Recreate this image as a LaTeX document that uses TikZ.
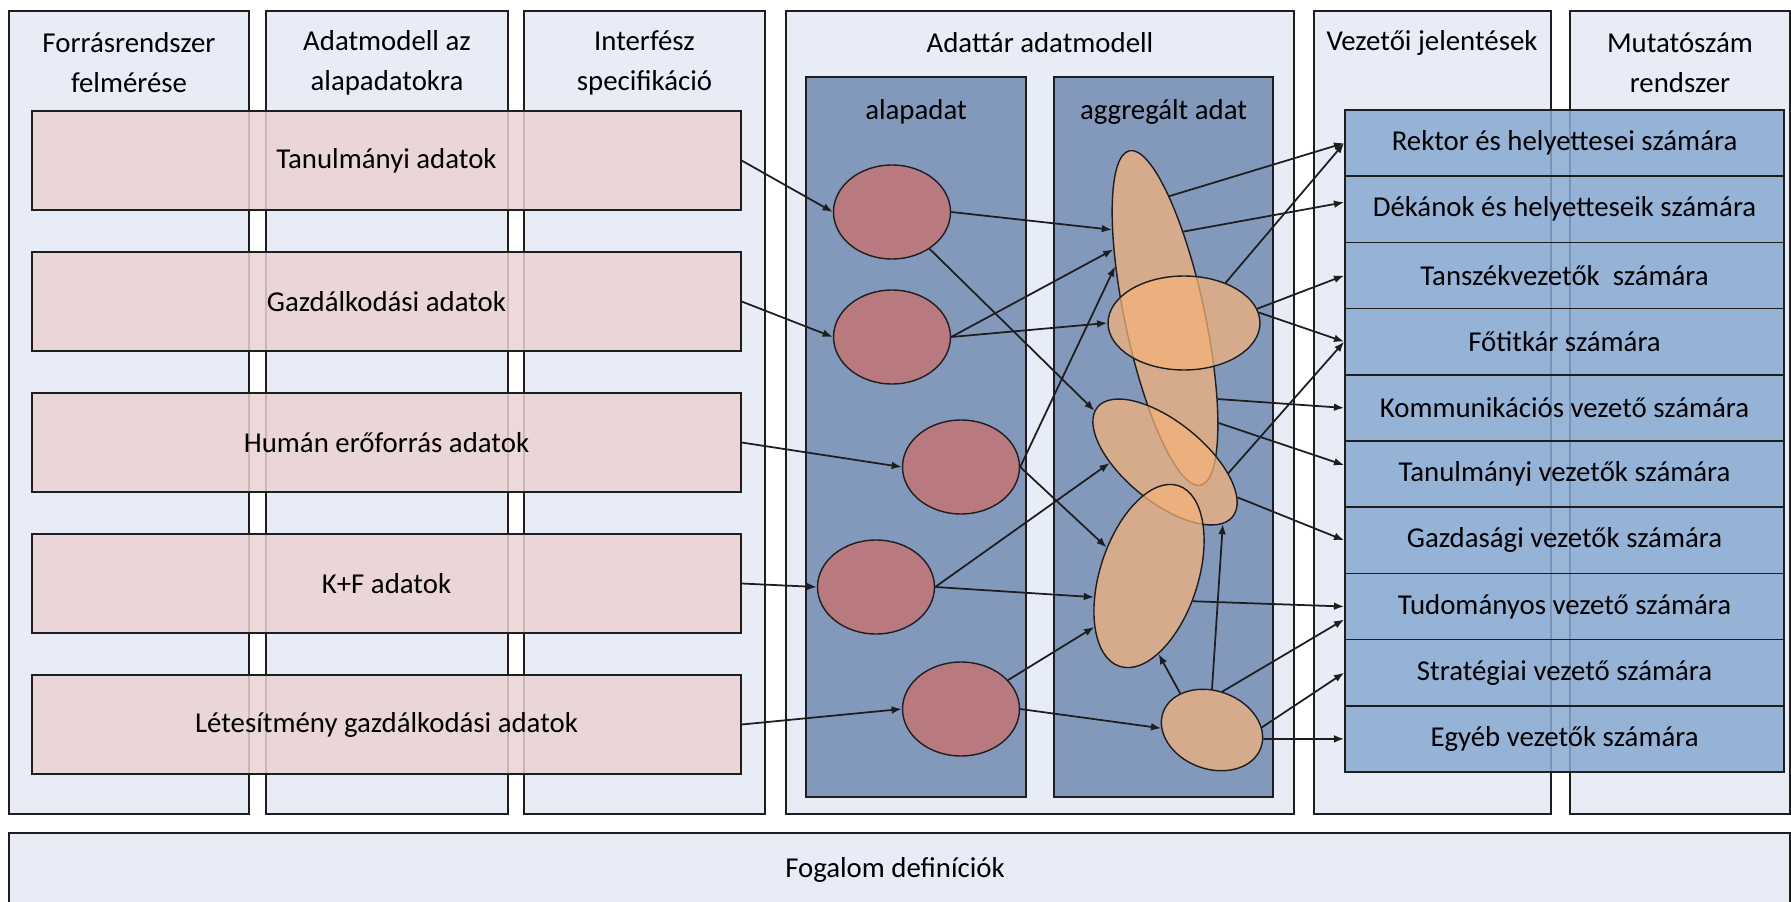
\documentclass[tikz,border=0pt]{standalone}
\usepackage{fontspec}
\setmainfont{Carlito}
\usepackage{tikz}
\usetikzlibrary{positioning}
\usetikzlibrary{arrows.meta}
\usetikzlibrary{shapes.geometric}
\definecolor{colbg}{RGB}{231,236,246}
\definecolor{panel}{RGB}{131,153,188}
\definecolor{pinkbox}{RGB}{235,210,211}
\definecolor{bluerow}{RGB}{135,169,210}
\definecolor{redball}{RGB}{185,122,127}
\definecolor{aggrfill}{RGB}{245,179,122}
\definecolor{edge}{RGB}{30,30,30}

\begin{document}
\begin{tikzpicture}[x=0.02cm, y=-0.02cm, >={Latex[length=5.8pt,width=4.4pt]},
    font=\fontsize{16.4}{22.8}\selectfont]
			\tikzstyle{colbox}=[draw=edge, fill=colbg, line width=0.7pt]
			\tikzstyle{panelbox}=[draw=edge, fill=panel, line width=0.8pt]
			\tikzstyle{headtxt}=[align=center, inner sep=0pt]
			\tikzstyle{srcbox}=[rectangle, draw=edge, fill=pinkbox, fill opacity=0.85, text opacity=1, minimum width=14.18cm, minimum height=1.98cm, line width=0.8pt]
			\tikzstyle{repbox}=[rectangle, draw=edge, fill=bluerow, fill opacity=0.85, text opacity=1, minimum width=8.78cm, minimum height=1.324cm, line width=1pt]
			\tikzstyle{alapball}=[ellipse, draw=edge, fill=redball, minimum width=2.34cm, minimum height=1.88cm, inner sep=0pt, line width=0.8pt]
			\tikzstyle{aggrball}=[ellipse, draw=edge, fill=aggrfill, fill opacity=0.72, inner sep=0pt, line width=0.8pt]
			\tikzstyle{conn}=[->, draw=edge, line width=1pt]
			
			\useasboundingbox (0,0) rectangle (1791,902);
			
			\draw [colbox] (9,11) rectangle (249,814);
			\draw [colbox] (266,11) rectangle (508,814);
			\draw [colbox] (524,11) rectangle (765,814);
			\draw [colbox] (786,11) rectangle (1294,814);
			\draw [colbox] (1314,11) rectangle (1551,814);
			\draw [colbox] (1570,11) rectangle (1790,814);
			\draw [colbox] (9,833) rectangle (1790,906);
			\draw [panelbox] (806,77) rectangle (1026,797);
			\draw [panelbox] (1054,77) rectangle (1273,797);
			
			\draw node at (129,63) [headtxt] (hforras) {Forrásrendszer\\felmérése};
			\draw node at (387,63) [headtxt] (hmodell) {Adatmodell az\\alapadatokra};
			\draw node at (644.5,63) [headtxt] (hinterf) {Interfész\\specifikáció};
			\draw node at (1040,43) [headtxt] (hadattar) {Adattár adatmodell};
			\draw node at (1432,43) [headtxt] (hvezetoi) {Vezetői jelentések};
			\draw node at (1680,63) [headtxt] (hmutato) {Mutatószám\\rendszer};
			\draw node at (916,112) [headtxt] (halap) {alapadat};
			\draw node at (1163.5,112) [headtxt] (haggr) {aggregált adat};
			\draw node at (895,870) [headtxt] (fogalom) {Fogalom definíciók};
			
			\draw node at (386.5,160.5) [srcbox] (p1) {Tanulmányi adatok};
			\draw node at (386.5,301.5) [srcbox] (p2) {Gazdálkodási adatok};
			\draw node at (386.5,442.5) [srcbox] (p3) {Humán erőforrás adatok};
			\draw node at (386.5,583.5) [srcbox] (p4) {K+F adatok};
			\draw node at (386.5,724.5) [srcbox] (p5) {Létesítmény gazdálkodási adatok};
			
			\draw node at (892,212) [alapball] (r1) {};
			\draw node at (892,337) [alapball] (r2) {};
			\draw node at (961,467) [alapball] (r3) {};
			\draw node at (876,587) [alapball] (r4) {};
			\draw node at (961,709) [alapball] (r5) {};
			
			\draw node at (1165,318) [aggrball, minimum width=1.6cm, minimum height=6.84cm, rotate=12] (aA) {};
			\draw node at (1184,323) [aggrball, minimum width=3.04cm, minimum height=1.88cm] (aB) {};
			\draw node at (1165,462) [aggrball, minimum width=3.48cm, minimum height=1.6cm, rotate=-39] (aC) {};
			\draw node at (1149,576) [aggrball, minimum width=1.96cm, minimum height=3.8cm, rotate=-18] (aD) {};
			\draw node at (1212,730) [aggrball, minimum width=2.08cm, minimum height=1.56cm, rotate=-20] (aE) {};
			
			\draw node at (1564.5,143.1) [repbox] (b1) {Rektor és helyettesei számára};
			\draw node at (1564.5,209.3) [repbox] (b2) {Dékánok és helyetteseik számára};
			\draw node at (1564.5,275.5) [repbox] (b3) {Tanszékvezetők~ számára};
			\draw node at (1564.5,341.7) [repbox] (b4) {Főtitkár számára};
			\draw node at (1564.5,407.9) [repbox] (b5) {Kommunikációs vezető számára};
			\draw node at (1564.5,474.1) [repbox] (b6) {Tanulmányi vezetők számára};
			\draw node at (1564.5,540.3) [repbox] (b7) {Gazdasági vezetők számára};
			\draw node at (1564.5,606.5) [repbox] (b8) {Tudományos vezető számára};
			\draw node at (1564.5,672.7) [repbox] (b9) {Stratégiai vezető számára};
			\draw node at (1564.5,738.9) [repbox] (b10) {Egyéb vezetők számára};
			
			\draw [conn] (p1.east) to (r1.west);
			\draw [conn] (p2.east) to (r2.west);
			\draw [conn] (p3.east) to (r3.west);
			\draw [conn] (p4.east) to (r4.west);
			\draw [conn] (p5.east) to (r5.west);
			
			\draw [conn] (r1.east) to (aA.109);
			\draw [conn] (r1) to (aC.183);
			\draw [conn] (r2.east) to (aA.115);
			\draw [conn] (r2.east) to (aB.west);
			\draw [conn] (r3.east) to (aA.122);
			\draw [conn] (r3.east) to (aD.164);
			\draw [conn] (r4.east) to (aC.220);
			\draw [conn] (r4.east) to (aD.219);
			\draw [conn] (r5) to (aD.241);
			\draw [conn] (r5.east) to (aE.198);
			
			\draw [conn] (aA.76) to (b1.west);
			\draw [conn] (aA.66) to ([yshift=0.14cm]b2.west);
			\draw [conn] (aB.44) to (b1.west);
			\draw [conn] (aB.11) to (b3.west);
			\draw [conn] (aB.8) to (b4.west);
			\draw [conn] (aA.291) to (b5.west);
			\draw [conn] (aA.285) to ([yshift=0.18cm]b6.west);
			\draw [conn] (aC.29) to (b4.west);
			\draw [conn] (aC.13) to (b7.west);
			\draw [conn] (aD.348) to (b8.west);
			\draw [conn] (aE.95) to ([yshift=-0.26cm]b8.west);
			\draw [conn] (aE.23) to (b9.west);
			\draw [conn] (aE.10) to (b10.west);
			\draw [conn] (aE.151) to (aD.295);
			\draw [conn] (aE.110) to (aC.352);
\end{tikzpicture}
\end{document}
